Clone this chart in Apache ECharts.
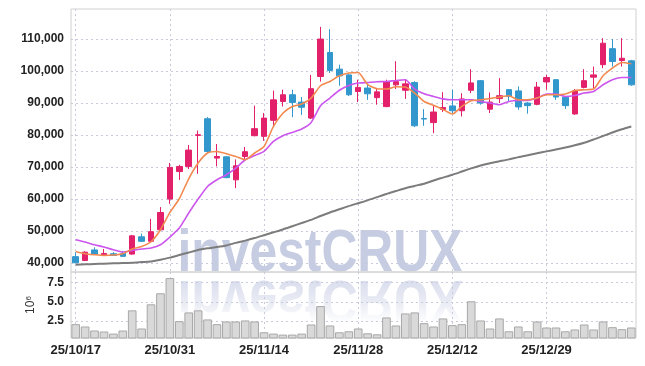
<!DOCTYPE html>
<html><head><meta charset="utf-8">
<script src="https://cdn.jsdelivr.net/npm/echarts@6/dist/echarts.min.js"></script>
<style>html,body{margin:0;padding:0;background:#fff}#c{width:645px;height:366px}</style>
</head><body><div id="c"></div>
<script>
const dates = ['25/10/17','25/10/20','25/10/21','25/10/22','25/10/23','25/10/24','25/10/27','25/10/28','25/10/29','25/10/30','25/10/31','25/11/03','25/11/04','25/11/05','25/11/06','25/11/07','25/11/10','25/11/11','25/11/12','25/11/13','25/11/14','25/11/17','25/11/18','25/11/19','25/11/20','25/11/21','25/11/24','25/11/25','25/11/26','25/11/27','25/11/28','25/12/01','25/12/02','25/12/03','25/12/04','25/12/05','25/12/08','25/12/09','25/12/10','25/12/11','25/12/12','25/12/15','25/12/16','25/12/17','25/12/18','25/12/19','25/12/22','25/12/23','25/12/24','25/12/26','25/12/29','25/12/30','26/01/02','26/01/05','26/01/06','26/01/07','26/01/08','26/01/09','26/01/12','26/01/13'];
const openP  = [42000,40800,44100,42600,42900,43000,42800,48200,46800,50400, 60000,68600,70200,79900,85100,72800,73200,66000,73300,79800, 79600,84600,90500,92600,90300,85300,98300,105800,100600,98800, 93600,94700,91700,88900,95700,94000,96400,85200,83900,88000, 89100,87600,94000,97000,88100,91400,94200,93800,90000,89600, 96600,97300,91800,86600,94900,98100,102000,107000,103300,103200];
const closeP = [40100,43400,42800,43000,42400,42100,48500,46800,49800,55800, 69900,70200,75300,80100,74900,73300,66700,70400,74800,82000, 85300,91000,92600,90200,88700,94500,110000,100200,98500,92600, 94900,92900,93500,96700,96700,96000,82900,85000,87200,88600, 87600,91300,96300,90000,90300,92300,92100,88800,89200,95000, 98000,91900,89200,93800,97000,98800,108700,103000,104000,95700];
const lowP   = [39900,40600,42600,42300,42200,41900,42600,46600,46300,50000, 58500,66000,69400,67900,74200,70200,66500,63400,71800,79600, 78200,82700,88900,85600,86300,85000,96700,99400,95400,92200, 90300,91000,89500,88700,94400,91300,82500,82900,80600,87200, 86700,85800,93100,89500,86900,90000,90400,87900,86700,89300, 94200,91000,88200,86300,94600,94700,100900,101400,101400,95400];
const highP  = [43400,43700,44900,44400,43400,43800,48800,49200,53800,57500, 71300,70700,76900,81400,85600,77200,73300,72400,76300,89200, 86900,93900,94200,94200,91900,98800,113800,113100,102000,99000, 97300,95700,94700,97300,103100,97300,96800,88100,89200,93400, 94200,93100,100600,97200,93300,97800,94400,95200,90300,96600, 98800,97500,92000,94400,100600,101400,110300,110000,110300,103500];
const maShort = [43630,42910,42600,42380,42500,42900,44380,45190,46660,50410, 55810,60090,66340,71250,74380,74880,74160,73310,72280,74400, 76440,82690,86800,88900,89700,91560,95410,96750,98530,99380, 99560,95800,94500,94380,95100,95000,93130,90500,89300,88000, 86560,88940,90720,91030,91440,91880,92280,91030,91030,91560, 92590,92590,92810,93940,94160,94380,98530,100940,102690,102280];
const maMid   = [47280,46560,45720,45000,44160,43440,43940,44380,44690,45720, 48130,50940,55630,60000,63940,66030,67590,69690,72280,73600, 74880,78000,79780,80810,81880,83940,89160,91560,94000,95500, 96250,96440,96660,96750,97060,97280,94380,92910,92060,91300, 91030,91030,91030,90500,90000,89470,90500,90810,90810,91560, 92810,92810,92060,92380,93130,93630,95720,97280,98000,98000];
const maLong  = [39500,39600,39700,39800,39900,40000,40100,40300,40500,41000, 41700,42500,43300,44100,44600,45000,45500,46300,47000,47800, 48700,49600,50500,51500,52500,53500,54700,55800,56800,57800, 58700,59600,60600,61600,62500,63400,64100,64800,65800,66700, 67600,68600,69600,70500,71200,71800,72400,73100,73700,74300, 74900,75500,76100,76800,77600,78600,79700,80800,81800,82700];
const volume  = [2.11,1.81,1.29,1.16,0.89,1.29,3.90,1.55,4.68,6.11, 8.07,2.50,3.63,3.90,2.72,2.11,2.46,2.46,2.59,2.46, 1.06,0.89,0.76,0.76,0.89,2.07,4.45,1.94,1.06,1.19, 1.55,0.93,0.80,2.98,1.94,3.50,3.63,2.24,1.81,2.85, 1.98,2.11,5.07,2.59,1.55,2.85,1.19,1.81,1.19,2.46, 1.68,1.68,1.19,1.42,2.07,1.42,2.46,1.72,1.46,1.68];
const priceTicks = [40000,50000,60000,70000,80000,90000,100000,110000];
const volTicks = [2.5,5.0,7.5];
const watermark = 'investCRUX';

const FONT = "'Liberation Sans',Arial,sans-serif";
const RED = '#e3216b', BLUE = '#3197cc';
const gridLine = {color:'#c9cbdc', type:[2,3], width:1};
const candles = dates.map((d,i)=>[openP[i], closeP[i], lowP[i], highP[i]]);

const chart = echarts.init(document.getElementById('c'), null, {renderer:'canvas'});
chart.setOption({
  animation:false,
  textStyle:{fontFamily:FONT},
  grid:[
    {left:71,right:9,top:9,height:263,show:true,borderColor:'#d0d0d0',borderWidth:1,outerBoundsMode:'none'},
    {left:71,right:9,top:272,height:66,show:true,borderColor:'#d0d0d0',borderWidth:1,outerBoundsMode:'none'}
  ],
  graphic:[
    {type:'text',x:320,y:254,scaleX:0.83,z:-10,silent:true,style:{text:watermark,font:'bold 60px '+FONT,fill:'#c6cce1',textAlign:'center',textVerticalAlign:'middle',align:'center',verticalAlign:'middle'}},
    {type:'text',x:320,y:298,scaleX:0.83,scaleY:-1,z:-10,silent:true,style:{text:watermark,font:'bold 60px '+FONT,fill:'#d8dcec',textAlign:'center',textVerticalAlign:'middle',align:'center',verticalAlign:'middle'}},
    {type:'rect',z:-9,silent:true,shape:{x:150,y:277,width:350,height:46},
     style:{fill:new echarts.graphic.LinearGradient(0,0,0,1,[{offset:0,color:'rgba(255,255,255,0)'},{offset:0.55,color:'rgba(255,255,255,0.45)'},{offset:1,color:'rgba(255,255,255,1)'}])}}
  ],
  xAxis:[
    {type:'category',gridIndex:0,data:dates,boundaryGap:true,axisLine:{show:false},axisTick:{show:false,interval:9,alignWithLabel:true},axisLabel:{show:false,interval:9},
     splitLine:{show:true,interval:9,alignWithLabel:true,lineStyle:gridLine}},
    {type:'category',gridIndex:1,data:dates,boundaryGap:true,axisLine:{show:false},axisTick:{show:false,interval:9,alignWithLabel:true},
     axisLabel:{show:true,interval:9,margin:6,fontSize:13,fontWeight:'bold',color:'#222',fontFamily:FONT},
     splitLine:{show:true,interval:9,alignWithLabel:true,lineStyle:gridLine}}
  ],
  yAxis:[
    {type:'value',gridIndex:0,min:37200,max:119400,scale:true,axisLine:{show:false},
     axisTick:{show:false,customValues:priceTicks},
     axisLabel:{customValues:priceTicks,formatter:v=>Number(v).toLocaleString('en-US'),fontSize:12,fontWeight:'bold',color:'#222',margin:7,fontFamily:FONT},
     splitLine:{show:true,lineStyle:gridLine}},
    {type:'value',gridIndex:1,min:0.32,max:8.86,axisLine:{show:false},
     axisTick:{show:false,customValues:volTicks},
     axisLabel:{customValues:volTicks,formatter:v=>Number(v).toFixed(1),fontSize:12,fontWeight:'bold',color:'#222',margin:7,fontFamily:FONT},
     splitLine:{show:true,lineStyle:gridLine},
     name:'{a|10}{b|6}',nameLocation:'middle',nameRotate:90,nameGap:30,
     nameTextStyle:{color:'#333',fontFamily:FONT,rich:{a:{fontSize:12,color:'#333',verticalAlign:'bottom',fontFamily:FONT},b:{fontSize:8,color:'#333',verticalAlign:'top',fontFamily:FONT}}}}
  ],
  series:[
    {type:'bar',xAxisIndex:1,yAxisIndex:1,data:volume,barCategoryGap:'8%',z:2,
     itemStyle:{color:'#d9d9d9',borderColor:'#a8a8a8',borderWidth:1}},
    {type:'candlestick',xAxisIndex:0,yAxisIndex:0,data:candles,barWidth:6,z:3,
     itemStyle:{color:RED,color0:BLUE,borderColor:RED,borderColor0:BLUE,borderWidth:1}},
    {type:'line',xAxisIndex:0,yAxisIndex:0,data:maLong,showSymbol:false,smooth:0.2,z:4,lineStyle:{color:'#7c7c7c',width:2}},
    {type:'line',xAxisIndex:0,yAxisIndex:0,data:maMid,showSymbol:false,smooth:0.2,z:4,lineStyle:{color:'#cc55ee',width:1.6}},
    {type:'line',xAxisIndex:0,yAxisIndex:0,data:maShort,showSymbol:false,smooth:0.2,z:5,lineStyle:{color:'#f28a50',width:1.6}}
  ]
});
</script></body></html>
